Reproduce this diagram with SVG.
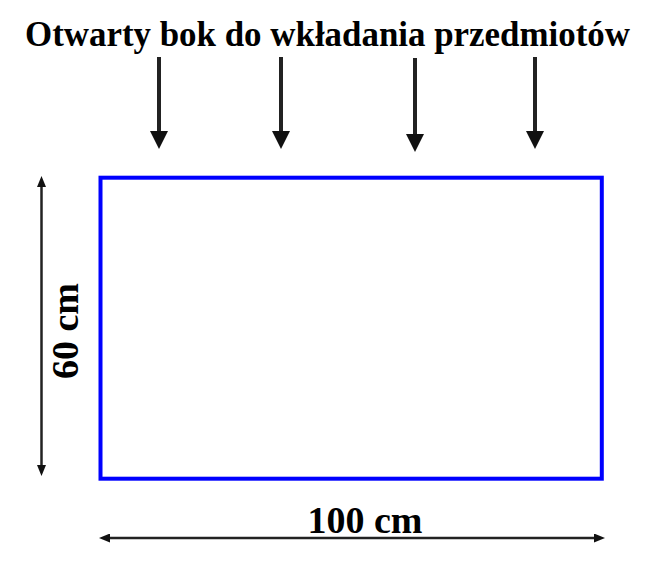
<svg xmlns="http://www.w3.org/2000/svg" width="647" height="562" viewBox="0 0 647 562">
  <style>
    text { font-family: 'Liberation Serif', 'DejaVu Serif', serif; font-weight: 700; fill: #000; }
    .arr { stroke: #222; stroke-width: 4; fill: none; }
    .dim { stroke: #222; stroke-width: 2.5; fill: none; }
    .box { fill: #fff; stroke: #0000ff; stroke-width: 4; }
  </style>
  <defs>
    <marker id="head" markerUnits="userSpaceOnUse" markerWidth="18" markerHeight="18" viewBox="0 0 18 18" refX="9" refY="9" orient="auto">
      <path d="M0,0 L18,9 L0,18 z" fill="#111"/>
    </marker>
    <marker id="dimhead" markerUnits="userSpaceOnUse" markerWidth="11" markerHeight="9" viewBox="0 0 11 9" refX="6" refY="4.5" orient="auto-start-reverse">
      <path d="M0,0 L11,4.5 L0,9 z" fill="#111"/>
    </marker>
  </defs>

  <g id="title">
    <text x="25" y="46" font-size="35" font-family="Liberation Serif, serif" textLength="605" lengthAdjust="spacingAndGlyphs">Otwarty bok do wkładania przedmiotów</text>
  </g>

  <g id="box">
    <rect class="box" x="100.5" y="177.7" width="501.3" height="301"/>
  </g>

  <g id="label-60">
    <text font-size="38" font-family="Liberation Serif, serif" text-anchor="middle" transform="translate(78,331) rotate(-90)">60 cm</text>
  </g>

  <g id="label-100">
    <text x="365" y="533" font-size="38" font-family="Liberation Serif, serif" text-anchor="middle">100 cm</text>
  </g>

  <g id="connectors">
    <line class="arr" x1="159" y1="57" x2="159" y2="140" marker-end="url(#head)"/>
    <line class="arr" x1="281" y1="57" x2="281" y2="140" marker-end="url(#head)"/>
    <line class="arr" x1="415" y1="58" x2="415" y2="143" marker-end="url(#head)"/>
    <line class="arr" x1="535" y1="57" x2="535" y2="140" marker-end="url(#head)"/>
    <line class="dim" x1="41.5" y1="181" x2="41.5" y2="471" marker-start="url(#dimhead)" marker-end="url(#dimhead)"/>
    <line class="dim" x1="104" y1="538" x2="600" y2="538" marker-start="url(#dimhead)" marker-end="url(#dimhead)"/>
  </g>
</svg>
